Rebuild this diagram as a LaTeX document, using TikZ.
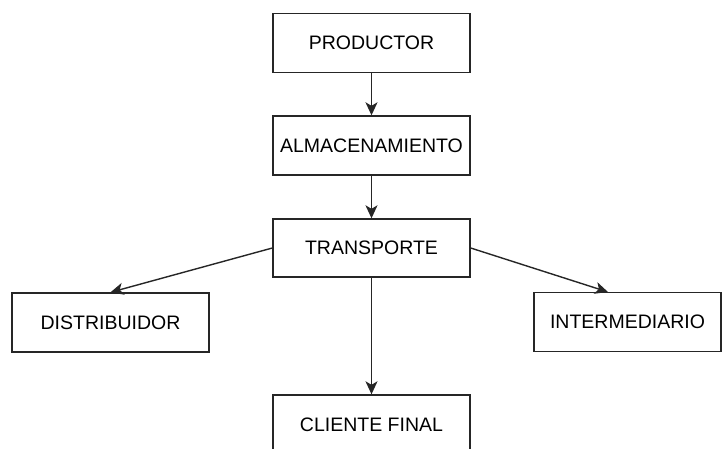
\documentclass[tikz,border=0pt]{standalone}
\usepackage{fontspec}
\setmainfont{Liberation Sans}
\usetikzlibrary{arrows.meta}
\begin{document}
\begin{tikzpicture}[x=1pt,y=-1pt,
  box/.style={draw=black!85,line width=1.4pt,rectangle,minimum width=197pt,minimum height=59pt,inner sep=0pt,font=\fontsize{19.5}{22}\selectfont},
  conn/.style={draw=black!85,line width=1.4pt,-{Stealth[length=13pt,width=12pt,inset=3.5pt]}}]
\useasboundingbox (0,0) rectangle (723,448);
\node[box] (prod) at (371.5,43) {PRODUCTOR};
\node[box] (alm) at (371.5,145.5) {ALMACENAMIENTO};
\node[box,minimum height=58pt] (trans) at (371.5,248) {TRANSPORTE};
\node[box] (dist) at (110.5,322.5) {DISTRIBUIDOR};
\node[box,minimum width=187pt] (inter) at (627.5,322) {INTERMEDIARIO};
\node[box,minimum height=60pt] (cli) at (371.5,425) {CLIENTE FINAL};
\coordinate (interin) at (608,292);
\draw[conn] (prod.south) -- (alm.north);
\draw[conn] (alm.south) -- (trans.north);
\draw[conn] (trans.west) -- (dist.north);
\draw[conn] (trans.east) -- (interin);
\draw[conn] (trans.south) -- (cli.north);
\end{tikzpicture}
\end{document}
